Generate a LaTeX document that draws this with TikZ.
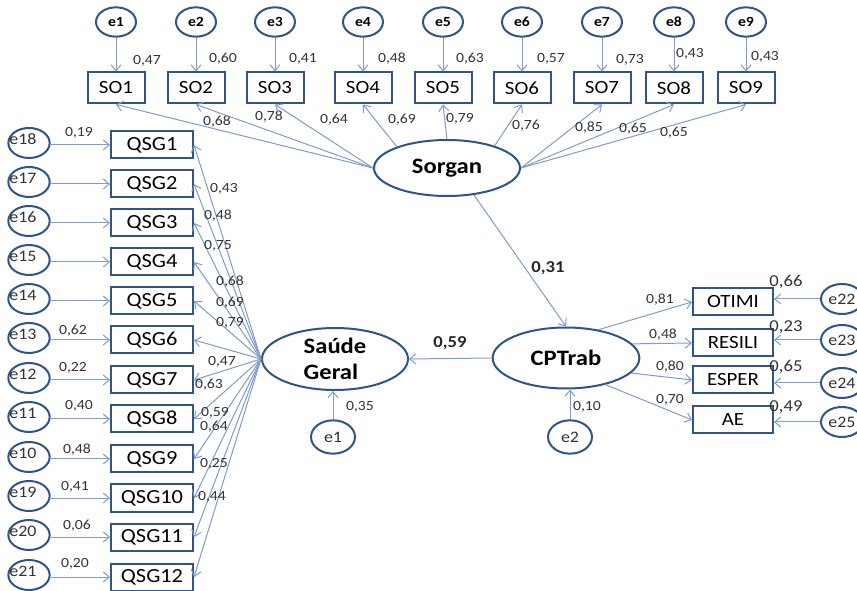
\documentclass[tikz,border=0pt]{standalone}
\usepackage{fontspec}
\setmainfont{Carlito}[FakeStretch=1.12]
\usetikzlibrary{arrows.meta,shapes.geometric}
\definecolor{dblue}{HTML}{2F5488}
\definecolor{lblue}{HTML}{7E9DCA}
\definecolor{tgray}{HTML}{333333}
\begin{document}
\begin{tikzpicture}[x=0.75pt,y=-0.75pt,
  lat/.style={ellipse,draw=dblue,line width=1.5pt,inner sep=0pt,font=\fontsize{16.5}{19}\selectfont\bfseries},
  obsbox/.style={rectangle,draw=dblue,line width=1.5pt,inner sep=0pt,text=black},
  sobox/.style={obsbox,minimum width=42.75pt,minimum height=23.25pt,font=\fontsize{14}{16}\selectfont},
  qbox/.style={obsbox,minimum width=61.5pt,minimum height=20.25pt,font=\fontsize{15}{17}\selectfont},
  rbox/.style={obsbox,minimum width=60pt,minimum height=20.25pt,font=\fontsize{14}{16}\selectfont},
  err/.style={ellipse,draw=dblue,line width=1.5pt,inner sep=0pt},
  terr/.style={err,minimum width=30pt,minimum height=22pt,font=\fontsize{10.5}{12}\selectfont\bfseries},
  lerr/.style={err,minimum width=31pt,minimum height=22.5pt},
  etext/.style={inner sep=0pt,text=tgray,font=\fontsize{12}{14}\selectfont},
  berr/.style={err,minimum width=33pt,minimum height=25pt,text=tgray,font=\fontsize{12}{14}\selectfont},
  rerr/.style={err,minimum width=31.5pt,minimum height=22.5pt,text=tgray,font=\fontsize{12}{14}\selectfont},
  arr/.style={draw=lblue,line width=0.75pt,-{Straight Barb[length=4.5pt,width=7.5pt]}},
  lab/.style={text=tgray,font=\fontsize{10.5}{12}\selectfont,inner sep=0pt},
  blab/.style={text=black!85,font=\fontsize{12.5}{14}\selectfont\bfseries,inner sep=0pt},
  rlab/.style={text=tgray,font=\fontsize{12.5}{15}\selectfont,inner sep=0pt}]
\clip (0,0) rectangle (857,591);
\fill[white] (0,0) rectangle (857,591);

% latent variables
\node[lat,minimum width=109.5pt,minimum height=42pt] (Sorgan) at (447,168) {Sorgan};
\node[lat,minimum width=109.5pt,minimum height=46.5pt,align=left] (SG) at (335,359) {Saúde\\Geral};
\node[lat,minimum width=110pt,minimum height=45.75pt] (CP) at (566,358) {CPTrab};

% top indicators
\foreach \i/\x/\lx/\ly/\v in {1/116/147/61/{0,47},2/196/223/59/{0,60},3/275/303/59/{0,41},4/363/392/59/{0,48},5/443/470/59/{0,63},6/522/551/59/{0,57},7/602/630/60/{0,73},8/674/690/54/{0,43},9/746/765/57/{0,43}}{
  \node[terr] (t\i) at (\x,22) {e\i};
  \node[sobox] (SO\i) at (\x,88) {SO\i};
  \draw[arr] (t\i) -- (SO\i);
  \node[lab] (tl\i) at (\lx,\ly) {\v};
}
\foreach \i/\a/\lx/\ly/\v in {1/west/217/122/{0,68},2/west/269/117/{0,78},3/west/334/120/{0,64},4/157/402/120/{0,69},5/north/460/119/{0,79},6/25/526/126/{0,76},7/east/589/128/{0,85},8/east/633/129/{0,65},9/east/674/133/{0,65}}{
  \draw[arr] (Sorgan.\a) -- (SO\i.south);
  \node[lab] (sl\i) at (\lx,\ly) {\v};
}

% left indicators
\foreach \i/\y/\e in {1/145/18,2/184/17,3/223/16,4/262/15,5/301/14,6/340/13,7/380/12,8/419/11,9/459/10,10/498/19,11/537/20,12/577/21}{
  \node[qbox] (Q\i) at (152,\y) {QSG\i};
  \node[lerr] (l\i) at (29,\y-2) {};
  \node[etext] (lt\i) at (23,\y-6) {e\e};
  \draw[arr] (l\i.east |- Q\i.west) -- (Q\i.west);
  \draw[arr] (SG.west) -- (Q\i.east);
}
\foreach \i/\lx/\ly/\v in {1/79/133/{0,19},6/73/331/{0,62},7/73/368/{0,22},8/79/406/{0,40},9/77/450/{0,48},10/75/487/{0,41},11/77/526/{0,06},12/75/564/{0,20}}{
  \node[lab] (ll\i) at (\lx,\ly) {\v};
}
\foreach \i/\lx/\ly/\v in {1/224/189/{0,43},2/218/216/{0,48},3/218/246/{0,75},4/230/282/{0,68},5/230/303/{0,69},6/230/323/{0,79},7/222/362/{0,47},8/209/385/{0,63},9/215/413/{0,59},10/214/427/{0,64},11/214/464/{0,25},12/212/497/{0,44}}{
  \node[lab] (ql\i) at (\lx,\ly) {\v};
}

% structural paths
\draw[arr] (Sorgan.-45) -- (CP.north);
\node[blab] (p31) at (548,268) {0,31};
\draw[arr] (CP.west) -- (SG.east);
\node[blab] (p59) at (450,343) {0,59};

% disturbances
\node[berr] (b1) at (333,437) {e1};
\node[berr] (b2) at (570,437) {e2};
\draw[arr] (b1.north) -- (b1.north |- SG.south);
\draw[arr] (b2.north) -- (b2.north |- CP.south);
\node[lab] (bl1) at (360,407) {0,35};
\node[lab] (bl2) at (587,407) {0,10};

% right indicators
\foreach \i/\y/\ey/\t/\e/\a/\lx/\ly/\v/\rv/\ry in {1/302/299/OTIMI/22/41/660/300/{0,81}/{0,66}/282,2/343/340/RESILI/23/12/663/335/{0,48}/{0,23}/327,3/380/383/ESPER/24/-13/670/367/{0,80}/{0,65}/367,4/420/422/AE/25/-34/670/400/{0,70}/{0,49}/407}{
  \node[rbox] (R\i) at (733,\y) {\t};
  \node[rerr] (r\i) at (842,\ey) {e\e};
  \draw[arr] (r\i.west) -- (r\i.west -| R\i.east);
  \draw[arr] (CP.\a) -- (R\i.west);
  \node[lab] (cl\i) at (\lx,\ly) {\v};
  \node[rlab] (rl\i) at (786,\ry) {\rv};
}
\end{tikzpicture}
\end{document}
